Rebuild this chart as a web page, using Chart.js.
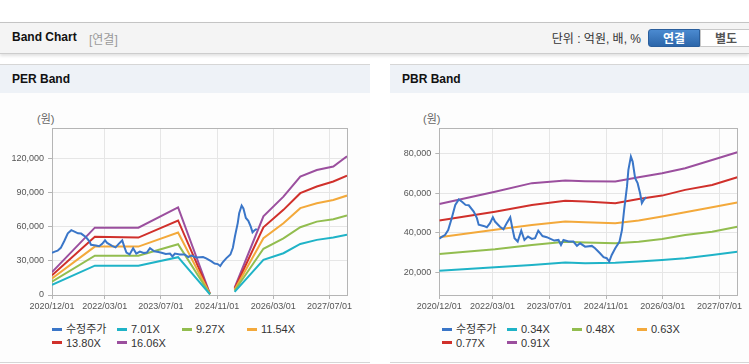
<!DOCTYPE html>
<html>
<head>
<meta charset="utf-8">
<script src="https://cdn.jsdelivr.net/npm/chart.js@4.4.1/dist/chart.umd.min.js"></script>
<style>
  body { margin: 0; width: 749px; height: 364px; overflow: hidden; background: #fff; position: relative;
         font-family: "Liberation Sans", "Noto Sans CJK KR", sans-serif; color: #222; }
  .abs { position: absolute; white-space: nowrap; }
  .topbar { left: 0; top: 22px; width: 749px; height: 30px; background: #f4f4f4;
            border-top: 1px solid #c4c4c4; border-bottom: 1px solid #cdcdcd; box-shadow: 0 2px 3px rgba(0,0,0,0.12); }
  .ttl { font-weight: bold; font-size: 12px; color: #111; }
  .sub { font-size: 12px; color: #9a9a9a; }
  .unit { font-size: 12px; color: #333; }
  .btn { top: 29px; height: 18px; line-height: 18px; font-size: 12px; font-weight: bold; text-align: center; }
  .btn.on { left: 648px; width: 52px; color: #fff; border-radius: 3px 0 0 3px;
            background: linear-gradient(#4b8ad0, #2c66aa); border: 1px solid #2a5e9c; box-sizing: border-box; }
  .btn.off { left: 700px; width: 52px; color: #555; background: #fff; border: 1px solid #c8c8c8; box-sizing: border-box; }
  .panel { top: 64px; height: 297px; background: #fdfdfd; border-top: 1px solid #d6d6d6; border-bottom: 1px solid #d6d6d6; }
  .ph { height: 28px; line-height: 28px; background: #eef2f7; font-weight: bold; font-size: 12px; padding-left: 12px; color: #111; }
  .unitlbl { font-size: 11px; color: #666; }
  .leg { font-size: 11px; color: #333; line-height: 13px; }
  .leg i { display: inline-block; width: 10px; height: 3px; vertical-align: middle; margin-right: 4px; position: relative; top: -1px; }
  canvas { position: absolute; }
</style>
</head>
<body>
<div class="abs topbar"></div>
<div class="abs ttl" style="left:12px; top:30px;">Band Chart</div>
<div class="abs sub" style="left:89px; top:30px;">[연결]</div>
<div class="abs unit" style="right:108px; top:29px;">단위 : 억원, 배, %</div>
<div class="abs btn on">연결</div>
<div class="abs btn off">별도</div>

<div class="abs panel" style="left:0; width:370px;"><div class="ph">PER Band</div></div>
<div class="abs panel" style="left:390px; width:359px;"><div class="ph">PBR Band</div></div>

<div class="abs unitlbl" style="left:37px; top:110px;">(원)</div>
<div class="abs unitlbl" style="left:423px; top:110px;">(원)</div>

<canvas id="perChart" width="370" height="215" style="left:0; top:100px;"></canvas>
<canvas id="pbrChart" width="359" height="215" style="left:390px; top:100px;"></canvas>

<div id="perLegend"></div>
<div id="pbrLegend"></div>

<script>
// x positions are months counted from 2020/12/01
const xTickPos = [0, 15, 31, 47, 63, 79];
const xTickLabels = ["2020/12/01", "2022/03/01", "2023/07/01", "2024/11/01", "2026/03/01", "2027/07/01"];

// 수정주가 (shared by both charts)
const priceX = [0, 0.8, 1.6, 2.5, 3.5, 4.5, 5.5, 6.4, 7.4, 8.3, 9.7, 10.6, 11.1, 12.5, 13.4, 14.3, 15.1, 15.7,
  17.1, 18.1, 19.0, 20.0, 20.6, 21.2, 22.1, 23.1, 24.0, 25.0, 26.1, 27.0, 27.9, 29.1, 30.3, 31.2, 32.4, 33.6,
  34.3, 35.0, 36.4, 37.8, 38.8, 39.7, 41.1, 43.0, 43.9, 45.3, 46.3, 47.2, 47.9, 48.6, 49.6, 50.8, 51.5, 52.1,
  52.9, 53.3, 54.0, 54.5, 55.2, 55.9, 56.6, 57.1, 57.6, 58.3];
const priceY = [37000, 38000, 38800, 41300, 47300, 54000, 56800, 55600, 54000, 53800, 50600, 47300, 44000, 43400,
  42700, 44800, 47800, 45600, 43000, 41700, 44800, 47800, 42200, 37200, 35500, 41000, 36300, 38000, 36800, 37200,
  41000, 38300, 37700, 37000, 36000, 36300, 33800, 36300, 35500, 35500, 33300, 34600, 32900, 33300, 32100, 29600,
  27600, 27100, 25400, 28700, 32100, 35500, 41400, 51500, 63200, 71700, 78400, 75900, 67500, 65000, 59900, 54900,
  56500, 57900];

// PER band
const perBandX = [0, 12.2, 24.6, 35.9, 45, 48.5, 52, 60.2, 65.9, 70.7, 75.4, 80.1, 84];
const per701 = [8800, 25700, 25700, 33100, 500, null, 2800, 30800, 36600, 44700, 48300, 50300, 52900];
const per927 = [11600, 34400, 34400, 44500, 600, null, 3700, 40500, 49700, 59400, 64300, 66400, 69600];
const per1154 = [14400, 42400, 42400, 54700, 700, null, 4600, 49700, 62900, 76100, 80400, 83300, 87100];
const per1380 = [17300, 51100, 50300, 65300, 800, null, 5500, 59300, 74600, 89200, 95000, 99400, 104600];
const per1606 = [20000, 59000, 59000, 76800, 900, null, 6400, 68900, 86200, 103800, 109500, 112600, 121600];
const perTicks = [0, 30000, 60000, 90000, 120000];

// PBR band
const pbrBandX = [0, 15.7, 26.1, 35.5, 41.1, 49.6, 56.2, 62.8, 69.3, 76.9, 84];
const pbr034 = [20700, 22500, 23700, 24900, 24500, 24800, 25400, 26200, 27100, 28700, 30400];
const pbr048 = [29200, 31600, 33800, 35400, 35000, 34600, 35400, 36800, 38800, 40500, 43000];
const pbr063 = [37700, 41400, 43900, 45600, 45300, 44800, 46100, 48100, 50300, 52800, 55200];
const pbr077 = [46100, 50600, 54000, 56100, 55700, 54900, 57000, 58700, 61600, 64100, 68000];
const pbr091 = [54500, 60700, 65000, 66300, 66000, 65800, 68000, 70000, 72500, 76700, 80600];
const pbrTicks = [20000, 40000, 60000, 80000];

const colors = ["#3a76c8", "#1fb3c7", "#92bd4f", "#f3a93b", "#d0302b", "#9b4f9e"];

function pts(xs, ys) {
  return xs.map((x, i) => ({ x: x, y: ys[i] }));
}

function series(labels, xs, list) {
  const sets = [{ label: labels[0], data: pts(priceX, priceY) }];
  list.forEach((ys, i) => sets.push({ label: labels[i + 1], data: pts(xs, ys) }));
  return sets.map((s, i) => Object.assign(s, {
    borderColor: colors[i], backgroundColor: colors[i], borderWidth: 2,
    pointRadius: 0, tension: 0, spanGaps: false
  }));
}

const frame = {
  id: "frame",
  beforeDatasetsDraw(chart) {
    const { ctx, chartArea: a } = chart;
    ctx.save();
    ctx.strokeStyle = "#b5b5b5";
    ctx.lineWidth = 1;
    ctx.strokeRect(Math.round(a.left) + 0.5, Math.round(a.top) + 0.5,
      Math.round(a.right - a.left), Math.round(a.bottom - a.top));
    ctx.restore();
  }
};

const tickFont = { family: "'Liberation Sans', Arial, sans-serif", size: 9 };

function makeChart(id, datasets, yMin, yMax, yTicks, area) {
  return new Chart(document.getElementById(id), {
    type: "line",
    data: { datasets: datasets },
    plugins: [frame],
    options: {
      responsive: false,
      animation: false,
      layout: { padding: { top: area.top, right: area.right, left: 0, bottom: 0 } },
      plugins: { legend: { display: false }, tooltip: { enabled: false } },
      scales: {
        x: {
          type: "linear", min: 0, max: 84,
          afterBuildTicks: (s) => { s.ticks = xTickPos.map((v) => ({ value: v })); },
          afterFit: (s) => { s.height = 215 - area.bottom; },
          ticks: { callback: (v, i) => xTickLabels[i], color: "#555", font: tickFont, padding: 2, maxRotation: 0, autoSkip: false },
          grid: { color: "#e6e6e6", tickColor: "#b5b5b5", tickLength: 4 },
          border: { color: "#b5b5b5" }
        },
        y: {
          min: yMin, max: yMax,
          afterBuildTicks: (s) => { s.ticks = yTicks.map((v) => ({ value: v })); },
          afterFit: (s) => { s.width = area.left; },
          ticks: { callback: (v) => v.toLocaleString("en-US"), color: "#555", font: tickFont, padding: 4 },
          grid: { color: "#e6e6e6", tickColor: "#b5b5b5", tickLength: 4 },
          border: { color: "#b5b5b5" }
        }
      }
    }
  });
}

function legend(id, labels, left, top) {
  const box = document.getElementById(id);
  labels.forEach((lab, i) => {
    const d = document.createElement("div");
    d.className = "abs leg";
    d.style.left = (left + (i % 4) * 65) + "px";
    d.style.top = (top + Math.floor(i / 4) * 13.5) + "px";
    d.innerHTML = '<i style="background:' + colors[i] + '"></i>' + lab;
    box.appendChild(d);
  });
}

const perLabels = ["수정주가", "7.01X", "9.27X", "11.54X", "13.80X", "16.06X"];
const pbrLabels = ["수정주가", "0.34X", "0.48X", "0.63X", "0.77X", "0.91X"];

makeChart("perChart", series(perLabels, perBandX, [per701, per927, per1154, per1380, per1606]),
  0, 146300, perTicks, { left: 52, right: 23, top: 28, bottom: 195 });
makeChart("pbrChart", series(pbrLabels, pbrBandX, [pbr034, pbr048, pbr063, pbr077, pbr091]),
  8500, 92700, pbrTicks, { left: 49.3, right: 11.7, top: 28.3, bottom: 195 });

legend("perLegend", perLabels, 52, 323);
legend("pbrLegend", pbrLabels, 442, 323);
</script>
</body>
</html>
